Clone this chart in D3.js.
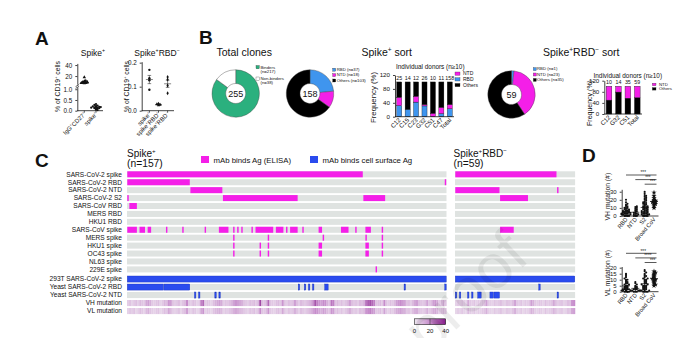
<!DOCTYPE html>
<html>
<head>
<meta charset="utf-8">
<script src="https://cdn.jsdelivr.net/npm/d3@7"></script>
<style>
  body { margin: 0; background: #fff; }
  svg { display: block; font-family: "Liberation Sans", Arial, Helvetica, sans-serif; }
</style>
</head>
<body>
<svg id="fig" width="700" height="338"></svg>
<script>
// ---------- A: B cell frequencies ----------
var freqGroups = ["IgG^+CD27^+", "spike^+"];
var freqIgG = [8.1, 7.6, 9.0, 8.4, 7.2, 9.6, 8.8, 7.9, 10.4, 8.3, 9.2, 7.5, 8.6, 17.8, 11.5, 6.8];
var freqSpike = [0.05, 0.08, 0.10, 0.12, 0.13, 0.15, 0.16, 0.18, 0.20, 0.22, 0.24, 0.27, 0.31, 0.12, 0.17, 0.14, 0.03, 0.19];
var sortGroups = ["spike^+", "spike^+RBD^+", "spike^+RBD^-"];
var sortSpike = [0.17, 0.135, 0.127, 0.087];
var sortRbdPos = [0.030, 0.025, 0.022, 0.027];
var sortRbdNeg = [0.14, 0.13, 0.105, 0.073];

// ---------- B: clone composition ----------
var totalLabels = ["Binders", "Non-binders"];
var totalCounts = [217, 38];
var domainLabels = ["RBD", "NTD", "Others"];
var spikeCounts = [37, 18, 103];
var negCounts = [1, 23, 35];

var spikeDonors = ["C12", "C15", "C23", "G32", "C51", "C47", "Total"];
var spikeDonorN = [25, 14, 12, 26, 10, 11, 158];
var spikeDonorRBD = [32, 21, 42, 31, 0, 9, 23];
var spikeDonorNTD = [24, 0, 17, 4, 10, 18, 12];
var spikeDonorOthers = [44, 79, 41, 65, 90, 73, 65];

var negDonors = ["C12", "G32", "C51", "Total"];
var negDonorN = [10, 14, 35, 59];
var negDonorOthers = [50, 79, 57, 59];
var negDonorNTD = [50, 21, 43, 41];

// ---------- C: binding heatmap (runs of clone columns, [first, last]) ----------
var elisaRows = ["SARS-CoV-2 spike", "SARS-CoV-2 RBD", "SARS-CoV-2 NTD", "SARS-CoV-2 S2",
  "SARS-CoV RBD", "MERS RBD", "HKU1 RBD", "SARS-CoV spike", "MERS spike", "HKU1 spike",
  "OC43 spike", "NL63 spike", "229E spike"];
var nSpike = 157, nNeg = 59;
var elisaSpike = [
  [[0, 115]],
  [[0, 30], [156, 156]],
  [[31, 46]],
  [[0, 0], [47, 83], [116, 126]],
  [[1, 4]],
  [],
  [],
  [[0, 4], [6, 8], [10, 11], [19, 19], [27, 27], [38, 38], [45, 49], [52, 52], [54, 54], [56, 56],
   [61, 61], [63, 71], [73, 76], [78, 78], [80, 83], [86, 86], [94, 95], [105, 108], [112, 112],
   [117, 119], [125, 125]],
  [[52, 52], [69, 69], [96, 96], [117, 117], [125, 125]],
  [[52, 52], [65, 65], [69, 69], [94, 95], [117, 118], [125, 125]],
  [[52, 52], [65, 65], [69, 69], [94, 95], [117, 118], [125, 125]],
  [],
  [[122, 122]]
];
var elisaNeg = [
  [[0, 49]], [], [[0, 21], [50, 50]], [[22, 35]], [], [], [], [[22, 28]], [], [], [], [], []
];
var cellRows = ["293T SARS-CoV-2 spike", "Yeast SARS-CoV-2 RBD", "Yeast SARS-CoV-2 NTD"];
var cellSpike = [
  [[0, 156]],
  [[0, 17], [18, 30], [84, 84], [87, 87], [89, 89], [91, 91], [97, 98], [136, 136], [156, 156]],
  [[33, 33], [35, 35], [43, 43], [45, 45]]
];
var cellNeg = [
  [[0, 58]],
  [[41, 41]],
  [[0, 0], [2, 2], [6, 6], [8, 8], [11, 12], [17, 18], [19, 21], [50, 50]]
];
var vhSpike = [6,8,5,7,9,6,10,8,7,14, 16,12,7,6,8,9,5,7,11,9, 18,16,8,6,7,9,5,8,10,20,
  7,6,9,8,5,7,22,26,6,8, 7,5,9,12,14,16,13,6,8,7, 9,11,15,18,16,14,12,8,7,6,
  9,8,10,7,11,32,9,8,12,26, 8,7,6,9,10,7,18,8,6,9, 7,8,16,9,6,10,8,7,9,11,
  14,20,30,22,18,16,20,19,12,9, 24,22,8,10,7,9,6,8,10,16, 9,7,8,6,10,9,12,24,28,30,
  26,22,8,9,10,7,20,8,6,9, 7,10,16,18,20,17,15,8,9,6, 10,14,16,9,8,7,9,15,8,10,
  16,18,14,7,9,13,8];
var vlSpike = [5,7,6,8,4,6,9,7,5,10, 12,8,6,5,7,8,4,6,9,7, 14,10,6,5,6,8,4,7,9,16,
  6,5,8,7,4,6,14,18,5,7, 6,4,8,10,11,12,10,5,7,6, 8,9,12,14,12,10,9,7,6,5,
  8,7,9,6,9,20,8,7,10,18, 7,6,5,8,9,6,14,7,5,8, 6,7,12,8,5,9,7,6,8,10,
  12,16,20,18,14,12,16,14,10,8, 18,16,7,9,6,8,5,7,9,13, 8,6,7,5,9,8,10,18,20,22,
  18,16,7,8,9,6,15,7,5,8, 6,9,13,14,16,13,12,7,8,5, 9,12,13,8,7,6,8,12,7,9,
  13,14,11,6,8,10,7];
var vhNeg = [5,7,6,8,6,5,14,7,6,8, 5,7,6,8,9,16,7,6,5,8, 6,7,9,6,5,8,7,6,9,15,
  7,6,8,5,7,6,8,16,12,7, 6,8,7,5,9,6,7,8,14,9, 6,7,8,5,6,9,8,18,20];
var vlNeg = [4,6,5,7,5,4,10,6,5,7, 4,6,5,7,8,12,6,5,4,7, 5,6,8,5,4,7,6,5,8,12,
  6,5,7,4,6,5,7,12,10,6, 5,7,6,4,8,5,6,7,11,8, 5,6,7,4,5,8,7,14,16];

// ---------- D: somatic mutations ----------
var mutGroups = ["RBD", "NTD", "S2", "Broad CoV"];
var vhRBD = [0,0,0,0,1,1,1,1,2,2,2,3,3,3,4,4,4,5,5,5,6,6,7,7,8,8,9,10,10,11,12,13,14,15,17,20,3];
var vhNTD = [0,0,0,1,1,2,2,3,3,4,5,6,7,8,9,10,11,12];
var vhS2 = [0,0,0,0,1,1,1,2,2,2,3,3,3,4,4,5,5,5,6,6,7,7,8,8,9,9,10,10,11,11,12,12,13,14,14,15,16,16,17,18,19,20,21,22,23,24,25,26,28,30];
var vhBroad = [10,12,14,15,16,17,17,18,19,20,22,25,29];
var vlRBD = [0,0,0,0,1,1,1,1,2,2,2,2,3,3,3,4,4,4,5,5,6,6,7,7,8,8,9,10,10,11,12,13,14,15,2,1,0];
var vlNTD = [0,0,0,1,1,1,2,2,2,3,3,4,4,5,6,7,8,1];
var vlS2 = [0,0,0,0,1,1,1,1,2,2,2,3,3,3,4,4,4,5,5,5,6,6,7,7,8,8,9,9,10,10,11,11,12,13,13,14,15,16,17,18];
var vlBroad = [5,6,7,8,9,10,10,11,12,13,14,15,16,17];
var vhStars = ["***", "***", "***"];
var vlStars = ["***", "****", "***"];

var svg = d3.select("#fig");
var INK = "#111", PINK = "#f41fe8", DEEP_BLUE = "#2a4bee", SKY = "#3f95ee",
    GREEN = "#2bb07e", GRAY = "#dfe3e1";

// text with ^+ / ^- superscripts
function rich(t, str, size) {
  var parts = str.split(/\^([+-])/), up = false;
  parts.forEach(function(p, i) {
    if (i % 2 === 1) {
      t.append("tspan").attr("font-size", size * 0.62).attr("dy", -size * 0.38)
        .text(p === "-" ? "\u2212" : "+");
      up = true;
    } else if (p) {
      var s = t.append("tspan").attr("font-size", size).text(p);
      if (up) { s.attr("dy", size * 0.38); up = false; }
    }
  });
  return t;
}
function txt(g, x, y, str, size, anchor, rot) {
  var t = g.append("text").attr("fill", INK).attr("font-size", size)
    .attr("text-anchor", anchor || "start");
  if (rot) t.attr("transform", "translate(" + x + "," + y + ") rotate(" + rot + ")");
  else t.attr("x", x).attr("y", y);
  return rich(t, str, size);
}
function styleAxis(g, size) {
  g.attr("font-family", null).attr("font-size", size);
  g.selectAll("text").attr("fill", INK);
  g.selectAll("line,path").attr("stroke", INK).attr("stroke-width", 0.8);
}
// spread equal-ish values sideways so dots don't sit on top of each other
function swarm(values, y, cx, step, maxSlots) {
  var seen = new Map();
  return values.map(function(v) {
    var py = y(v), key = Math.round(py / step), n = seen.get(key) || 0;
    seen.set(key, n + 1);
    var slot = Math.ceil(n / 2) % (maxSlots + 1);
    return { x: cx + (n % 2 ? 1 : -1) * slot * step, y: py };
  });
}

// panel letters
[["A", 35, 45], ["B", 199, 44], ["C", 35, 167], ["D", 582, 162]].forEach(function(d) {
  svg.append("text").attr("x", d[1]).attr("y", d[2]).attr("font-size", 19)
    .attr("font-weight", "bold").attr("fill", INK).text(d[0]);
});

// ================= A =================
(function() {
  var g = svg.append("g");
  txt(g, 93, 55.5, "Spike^+", 8.5, "middle");
  txt(g, 157, 55.5, "Spike^+RBD^-", 8.5, "middle");
  txt(g, 60, 86.5, "% of CD19^+ cells", 6.8, "middle", -90);
  txt(g, 128.5, 86.5, "% of CD19^+ cells", 6.8, "middle", -90);

  // left: broken y axis
  var fx = d3.scalePoint().domain(freqGroups).range([77.3, 103]).padding(0.6);
  var yLow = d3.scaleLinear().domain([0, 1.1]).range([110.7, 87.1]);
  var yHigh = d3.scaleLinear().domain([5, 43]).range([84.3, 63.4]);
  g.append("g").attr("transform", "translate(77.3,0)")
    .call(d3.axisLeft(yLow).tickValues([0, 0.5, 1]).tickFormat(d3.format(".1f")).tickSize(2).tickSizeOuter(0))
    .call(styleAxis, 6.3);
  g.append("g").attr("transform", "translate(77.3,0)")
    .call(d3.axisLeft(yHigh).tickValues([20, 40]).tickSize(2).tickSizeOuter(0))
    .call(styleAxis, 6.3);
  g.append("path").attr("d", "M75.6,86.6L79,84.6M75.6,88.4L79,86.4")
    .attr("stroke", INK).attr("stroke-width", 0.7);
  g.append("line").attr("x1", 77.3).attr("x2", 103).attr("y1", 110.7).attr("y2", 110.7)
    .attr("stroke", INK).attr("stroke-width", 0.8);
  freqGroups.forEach(function(k) {
    g.append("line").attr("x1", fx(k)).attr("x2", fx(k)).attr("y1", 110.7).attr("y2", 112.7)
      .attr("stroke", INK).attr("stroke-width", 0.7);
    txt(g, fx(k) + 2, 114.5, k, 6, "end", -45);
  });
  var tri = d3.symbol().type(d3.symbolTriangle).size(5);
  g.selectAll(".igg").data(swarm(freqIgG, yHigh, fx(freqGroups[0]), 1.5, 2)).join("path")
    .attr("transform", function(d) { return "translate(" + d.x + "," + d.y + ")"; })
    .attr("d", tri).attr("fill", INK);
  g.selectAll(".spk").data(swarm(freqSpike, yLow, fx(freqGroups[1]), 1.6, 3)).join("circle")
    .attr("cx", function(d) { return d.x; }).attr("cy", function(d) { return d.y; })
    .attr("r", 1.1).attr("fill", INK);

  // right: sorted populations
  var sx = d3.scalePoint().domain(sortGroups).range([143, 174]).padding(0.7);
  var sy = d3.scaleLinear().domain([0, 0.204]).range([110.7, 61.7]);
  g.append("g").attr("transform", "translate(141.7,0)")
    .call(d3.axisLeft(sy).tickValues([0, 0.1, 0.2]).tickFormat(d3.format(".1f")).tickSize(2).tickSizeOuter(0))
    .call(styleAxis, 6.3);
  g.append("line").attr("x1", 141.7).attr("x2", 174).attr("y1", 110.7).attr("y2", 110.7)
    .attr("stroke", INK).attr("stroke-width", 0.8);
  var sets = [sortSpike, sortRbdPos, sortRbdNeg];
  var marks = [d3.symbolCircle, d3.symbolTriangle, d3.symbolDiamond];
  sortGroups.forEach(function(k, i) {
    var cx = sx(k), vals = sets[i];
    g.append("line").attr("x1", cx).attr("x2", cx).attr("y1", 110.7).attr("y2", 112.7)
      .attr("stroke", INK).attr("stroke-width", 0.7);
    txt(g, cx + 2, 114.5, k, 6, "end", -45);
    var m = d3.mean(vals), se = d3.deviation(vals) / Math.sqrt(vals.length);
    g.append("path")
      .attr("d", "M" + (cx - 3.5) + "," + sy(m) + "h7M" + cx + "," + sy(m + se) + "V" + sy(m - se) +
        "M" + (cx - 1.8) + "," + sy(m + se) + "h3.6M" + (cx - 1.8) + "," + sy(m - se) + "h3.6")
      .attr("stroke", "#333").attr("stroke-width", 0.6).attr("fill", "none");
    g.selectAll(null).data(swarm(vals, sy, cx, 1.6, 1)).join("path")
      .attr("transform", function(d) { return "translate(" + d.x + "," + d.y + ")"; })
      .attr("d", d3.symbol().type(marks[i]).size(4.5)).attr("fill", INK);
  });
})();

// ================= B =================
function donut(cx, cy, counts, colors, centre) {
  var g = svg.append("g").attr("transform", "translate(" + cx + "," + cy + ")");
  var arc = d3.arc().innerRadius(10).outerRadius(23.7);
  g.selectAll("path").data(d3.pie().sort(null)(counts)).join("path")
    .attr("d", arc).attr("fill", function(d, i) { return colors[i]; })
    .attr("stroke", "#444").attr("stroke-width", 0.4);
  g.append("text").attr("text-anchor", "middle").attr("dy", "0.36em")
    .attr("font-size", 9).attr("fill", INK).text(centre);
}
function legendBox(x, y, w, h, color) {
  svg.append("rect").attr("x", x).attr("y", y).attr("width", w).attr("height", h)
    .attr("fill", color).attr("stroke", "#333").attr("stroke-width", 0.3);
}
txt(svg, 216.5, 56, "Total clones", 10.5);
txt(svg, 361.5, 56, "Spike^+ sort", 10.5);
txt(svg, 543, 55.5, "Spike^+RBD^- sort", 10.5);

donut(235.7, 93.5, totalCounts, [GREEN, "#fff"], d3.sum(totalCounts));
legendBox(256, 65.5, 3.3, 3.3, GREEN);
txt(svg, 260.5, 68.5, totalLabels[0], 4.3);
txt(svg, 260.5, 72.8, "(n=" + totalCounts[0] + ")", 4.3);
legendBox(256, 77, 3.3, 3.3, "#fff");
txt(svg, 260.5, 80, totalLabels[1], 4.3);
txt(svg, 260.5, 84.3, "(n=" + totalCounts[1] + ")", 4.3);

var domainColors = [SKY, PINK, "#000"];
donut(310, 93.5, spikeCounts, domainColors, d3.sum(spikeCounts));
domainLabels.forEach(function(k, i) {
  legendBox(332.7, 68.2 + i * 5.4, 3, 3, domainColors[i]);
  txt(svg, 336.7, 71 + i * 5.4, k + " (n=" + spikeCounts[i] + ")", 4.3);
});
donut(511.5, 94.5, negCounts, domainColors, d3.sum(negCounts));
domainLabels.forEach(function(k, i) {
  legendBox(533.3, 67.6 + i * 5.4, 3, 3, domainColors[i]);
  txt(svg, 537, 70.4 + i * 5.4, k + " (n=" + negCounts[i] + ")", 4.3);
});

// stacked 100% bars per donor
function donorBars(opt) {
  var g = svg.append("g");
  var x = d3.scaleBand().domain(opt.donors).range(opt.xr).paddingInner(0.4).paddingOuter(0.2);
  var y = d3.scaleLinear().domain([0, 120]).range(opt.yr);
  var rows = opt.donors.map(function(d, i) {
    var r = { donor: d };
    opt.keys.forEach(function(k, j) { r[k] = opt.layers[j][i]; });
    return r;
  });
  var series = d3.stack().keys(opt.keys)(rows);
  g.selectAll("g.layer").data(series).join("g").attr("fill", function(s, j) { return opt.colors[j]; })
    .selectAll("rect").data(function(s) { return s; }).join("rect")
    .attr("x", function(d) { return x(d.data.donor); }).attr("width", x.bandwidth())
    .attr("y", function(d) { return y(d[1]); })
    .attr("height", function(d) { return y(d[0]) - y(d[1]); })
    .attr("stroke", "#111").attr("stroke-width", 0.35);
  g.append("g").attr("transform", "translate(" + opt.xr[0] + ",0)")
    .call(d3.axisLeft(y).tickValues([0, 40, 80, 120]).tickSize(2).tickSizeOuter(0))
    .call(styleAxis, 6.2);
  g.append("line").attr("x1", opt.xr[0]).attr("x2", opt.xr[1]).attr("y1", opt.yr[0]).attr("y2", opt.yr[0])
    .attr("stroke", INK).attr("stroke-width", 0.8);
  opt.donors.forEach(function(d, i) {
    var cx = x(d) + x.bandwidth() / 2;
    g.append("text").attr("x", cx).attr("y", y(100) - 2.3).attr("text-anchor", "middle")
      .attr("font-size", 5.3).attr("fill", INK).text(opt.n[i]);
    txt(g, cx + 2, opt.yr[0] + 3.8, d, 6.2, "end", -45);
  });
  txt(g, opt.titleX, opt.titleY, "Individual donors (n\u226510)", 6.4);
  txt(g, opt.labelX, opt.labelY, "Frequency (%)", opt.labelSize, "middle", -90);
  opt.legend.forEach(function(l, i) {
    legendBox(opt.legX, opt.legY + i * opt.legDy, opt.legW, opt.legH, l[1]);
    txt(g, opt.legX + opt.legW + 3, opt.legY + i * opt.legDy + opt.legH, l[0], opt.legSize);
  });
}
donorBars({
  donors: spikeDonors, n: spikeDonorN, keys: ["RBD", "NTD", "Others"],
  layers: [spikeDonorRBD, spikeDonorNTD, spikeDonorOthers], colors: [SKY, PINK, "#000"],
  xr: [395, 454], yr: [116.7, 75], titleX: 396, titleY: 68.5,
  labelX: 375.5, labelY: 97.5, labelSize: 7.8,
  legend: [["NTD", PINK], ["RBD", SKY], ["Others", "#000"]],
  legX: 455, legY: 72, legDy: 5.7, legW: 5, legH: 3.3, legSize: 5
});
donorBars({
  donors: negDonors, n: negDonorN, keys: ["Others", "NTD"],
  layers: [negDonorOthers, negDonorNTD], colors: ["#000", PINK],
  xr: [604.3, 642], yr: [114, 80.7], titleX: 593.5, titleY: 77.5,
  labelX: 591.5, labelY: 103, labelSize: 7,
  legend: [["NTD", PINK], ["Others", "#000"]],
  legX: 652.3, legY: 83.2, legDy: 4.4, legW: 3.7, legH: 2.5, legSize: 4.3
});

// ================= C =================
(function() {
  var g = svg.append("g");
  var xS = d3.scaleLinear().domain([0, nSpike]).range([127, 446.5]);
  var xN = d3.scaleLinear().domain([0, nNeg]).range([455, 575.1]);
  var yTop = d3.scaleBand().domain(elisaRows).range([171.3, 272.4]).paddingInner(0.24);
  var lower = cellRows.concat(["VH mutation", "VL mutation"]);
  var yBot = d3.scaleBand().domain(lower).range([276, 314.1]).paddingInner(0.24);
  var heat = d3.scaleLinear().domain([0, 20, 40]).range(["#efe9f1", "#c68ccb", "#861b8a"]);

  txt(g, 127, 157, "Spike^+", 10);
  txt(g, 127, 166.5, "(n=" + nSpike + ")", 10.3);
  txt(g, 453.5, 157, "Spike^+RBD^-", 10);
  txt(g, 453.5, 166.5, "(n=" + nNeg + ")", 10.3);
  g.append("rect").attr("x", 201).attr("y", 156).attr("width", 8).attr("height", 7).attr("fill", PINK);
  txt(g, 213.5, 162.5, "mAb binds Ag (ELISA)", 7.8);
  g.append("rect").attr("x", 310).attr("y", 156).attr("width", 8).attr("height", 7).attr("fill", DEEP_BLUE);
  txt(g, 322.5, 162.5, "mAb binds cell surface Ag", 7.8);

  function runs(x, y, row, list, color, edge) {
    g.selectAll(null).data(list).join("rect")
      .attr("x", function(r) { return x(r[0]) + 0.3; })
      .attr("width", function(r) { return x(r[1] + 1) - x(r[0]) - 0.6; })
      .attr("y", y(row)).attr("height", y.bandwidth())
      .attr("fill", color).attr("stroke", edge || "none").attr("stroke-width", 0.4);
  }
  function rowBack(x, y, row, n) {
    g.append("rect").attr("x", x(0)).attr("width", x(n) - x(0))
      .attr("y", y(row)).attr("height", y.bandwidth()).attr("fill", GRAY);
  }
  elisaRows.forEach(function(row, i) {
    txt(g, 122, yTop(row) + yTop.bandwidth() / 2 + 2.3, row, 6.6, "end");
    rowBack(xS, yTop, row, nSpike);
    rowBack(xN, yTop, row, nNeg);
    runs(xS, yTop, row, elisaSpike[i], PINK);
    runs(xN, yTop, row, elisaNeg[i], PINK);
  });
  cellRows.forEach(function(row, i) {
    txt(g, 122, yBot(row) + yBot.bandwidth() / 2 + 2.3, row, 6.6, "end");
    rowBack(xS, yBot, row, nSpike);
    rowBack(xN, yBot, row, nNeg);
    runs(xS, yBot, row, cellSpike[i], DEEP_BLUE, "#1d36c0");
    runs(xN, yBot, row, cellNeg[i], DEEP_BLUE, "#1d36c0");
  });
  [["VH mutation", vhSpike, vhNeg], ["VL mutation", vlSpike, vlNeg]].forEach(function(m) {
    txt(g, 122, yBot(m[0]) + yBot.bandwidth() / 2 + 2.3, m[0], 6.6, "end");
    [[xS, m[1]], [xN, m[2]]].forEach(function(p) {
      g.selectAll(null).data(p[1]).join("rect")
        .attr("x", function(v, i) { return p[0](i); })
        .attr("width", p[0](1) - p[0](0) + 0.15)
        .attr("y", yBot(m[0])).attr("height", yBot.bandwidth())
        .attr("fill", function(v) { return heat(v); });
    });
  });

  // colour key
  var grad = svg.append("defs").append("linearGradient").attr("id", "mutkey");
  heat.domain().forEach(function(v) {
    grad.append("stop").attr("offset", v / 40).attr("stop-color", heat(v));
  });
  var kx = d3.scaleLinear().domain([0, 40]).range([414.3, 445.7]);
  g.append("rect").attr("x", kx(0)).attr("y", 318.8).attr("width", kx(40) - kx(0)).attr("height", 5.8)
    .attr("fill", "url(#mutkey)").attr("stroke", "#222").attr("stroke-width", 0.6);
  g.append("line").attr("x1", kx(20)).attr("x2", kx(20)).attr("y1", 318.8).attr("y2", 324.6)
    .attr("stroke", "#222").attr("stroke-width", 0.5);
  [0, 20, 40].forEach(function(v) {
    g.append("text").attr("x", kx(v)).attr("y", 332.5).attr("text-anchor", "middle")
      .attr("font-size", 6).attr("fill", INK).text(v);
  });
})();

// ================= D =================
function mutPlot(sets, stars, yr, top, ticks, label, sigY) {
  var g = svg.append("g");
  var x = d3.scalePoint().domain(mutGroups).range([626, 654]);
  var y = d3.scaleLinear().domain([0, top]).range(yr);
  g.append("g").attr("transform", "translate(621.7,0)")
    .call(d3.axisLeft(y).tickValues(ticks).tickSize(2).tickSizeOuter(0))
    .call(styleAxis, 6);
  g.append("line").attr("x1", 621.7).attr("x2", 658.5).attr("y1", yr[0]).attr("y2", yr[0])
    .attr("stroke", INK).attr("stroke-width", 0.8);
  txt(g, 610, (yr[0] + yr[1]) / 2 - 6, label, 6.8, "middle", -90);
  mutGroups.forEach(function(k, i) {
    var cx = x(k), vals = sets[i];
    txt(g, cx + 2, yr[0] + 3.5, k, 5.8, "end", -50);
    var m = d3.mean(vals), sd = d3.deviation(vals);
    g.append("path")
      .attr("d", "M" + (cx - 4) + "," + y(m) + "h8M" + cx + "," + y(Math.max(0, m - sd)) + "V" + y(m + sd))
      .attr("stroke", INK).attr("stroke-width", 0.7);
    var pts = swarm(vals, y, cx, 1.5, 3);
    if (k === "Broad CoV") {
      g.selectAll(null).data(pts).join("path")
        .attr("transform", function(d) { return "translate(" + d.x + "," + d.y + ")"; })
        .attr("d", d3.symbol().type(d3.symbolStar).size(9)).attr("fill", INK);
    } else {
      g.selectAll(null).data(pts).join("circle")
        .attr("cx", function(d) { return d.x; }).attr("cy", function(d) { return d.y; })
        .attr("r", 1.05).attr("fill", INK);
    }
  });
  stars.forEach(function(s, i) {
    var yy = sigY + i * 4.6, x0 = x(mutGroups[i]);
    g.append("line").attr("x1", x0).attr("x2", 656.5).attr("y1", yy).attr("y2", yy)
      .attr("stroke", INK).attr("stroke-width", 0.7);
    g.append("text").attr("x", (x0 + 656.5) / 2 + 2).attr("y", yy - 0.8).attr("text-anchor", "middle")
      .attr("font-size", 4.6).attr("fill", INK).text(s);
  });
}
mutPlot([vhRBD, vhNTD, vhS2, vhBroad], vhStars, [216, 189.3], 33, [0, 10, 20, 30], "VH mutation (#)", 175);
mutPlot([vlRBD, vlNTD, vlS2, vlBroad], vlStars, [291.7, 266.5], 21, [0, 5, 10, 15, 20], "VL mutation (#)", 253.3);

// faint journal watermark
svg.append("text").attr("transform", "translate(428,356) rotate(-43)")
  .attr("font-size", 62).attr("fill", "#000").attr("fill-opacity", 0.07).text("proof");
</script>
</body>
</html>
